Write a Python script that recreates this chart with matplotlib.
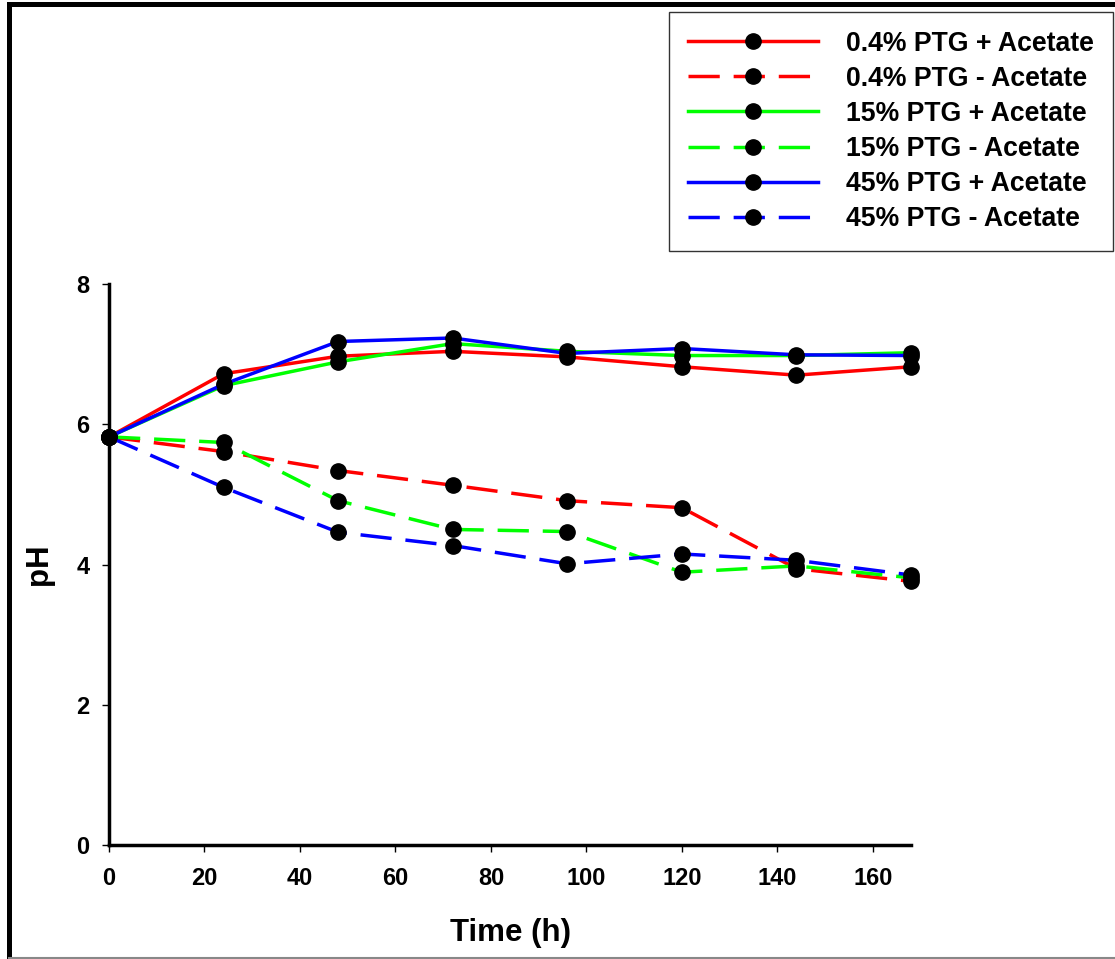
import matplotlib.pyplot as plt
from matplotlib.lines import Line2D

# données
time_h = [0, 24, 48, 72, 96, 120, 144, 168]

ph_04_plus = [5.82, 6.72, 6.97, 7.04, 6.96, 6.82, 6.70, 6.82]
ph_04_minus = [5.82, 5.61, 5.34, 5.13, 4.91, 4.81, 3.94, 3.76]
ph_15_plus = [5.82, 6.55, 6.89, 7.15, 7.04, 6.98, 6.98, 7.02]
ph_15_minus = [5.82, 5.74, 4.91, 4.50, 4.47, 3.89, 3.98, 3.81]
ph_45_plus = [5.82, 6.57, 7.18, 7.23, 7.01, 7.08, 6.99, 6.98]
ph_45_minus = [5.82, 5.10, 4.46, 4.27, 4.01, 4.15, 4.06, 3.85]

labels = ["0.4% PTG + Acetate", "0.4% PTG - Acetate",
          "15% PTG + Acetate", "15% PTG - Acetate",
          "45% PTG + Acetate", "45% PTG - Acetate"]
series = [ph_04_plus, ph_04_minus, ph_15_plus, ph_15_minus, ph_45_plus, ph_45_minus]
colors = ["#ff0000", "#ff0000", "#00ff00", "#00ff00", "#0000ff", "#0000ff"]
dashed = [False, True, False, True, False, True]

plt.rcParams['font.family'] = ['Liberation Sans', 'DejaVu Sans']
plt.rcParams['font.weight'] = 'bold'

fig = plt.figure(figsize=(11.15, 9.59), dpi=100)
ax = fig.add_axes([109/1115, 1 - 845/959, (911-109)/1115, (845-284)/959])

for ys, lab, c, d in zip(series, labels, colors, dashed):
    ls = (0, (9, 4)) if d else '-'
    ax.plot(time_h, ys, color=c, lw=2.5, ls=ls, marker='o', ms=11,
            mfc='black', mec='black', label=lab, clip_on=False, zorder=3)

ax.set_xlim(0, 168)
ax.set_ylim(0, 8)
ax.set_xticks(range(0, 161, 20))
ax.set_yticks(range(0, 9, 2))
for s in ['top', 'right']:
    ax.spines[s].set_visible(False)
for s in ['left', 'bottom']:
    ax.spines[s].set_linewidth(2.5)
ax.tick_params(direction='out', length=5, width=1, labelsize=17, pad=9)
for t in ax.get_xticklabels() + ax.get_yticklabels():
    t.set_fontweight('bold')
ax.tick_params(axis='x', pad=11)

ax.set_xlabel("Time (h)", fontsize=22.5, fontweight='bold', labelpad=20)
ax.set_ylabel("pH", fontsize=22.5, fontweight='bold', labelpad=16)

leg = fig.legend(loc='upper right', bbox_to_anchor=(1113/1115, 1 - 12/959),
                 borderaxespad=0, fontsize=19.2, handlelength=4.9,
                 handletextpad=1.05, labelspacing=0.34, fancybox=False,
                 edgecolor='#333333', framealpha=1, borderpad=0.7)
leg.get_frame().set_linewidth(1)
for t in leg.get_texts():
    t.set_fontweight('bold')

# cadre de la figure
fig.add_artist(Line2D([8.5/1115, 8.5/1115], [0, 1 - 3.5/959], color='black', lw=3.6,
                      transform=fig.transFigure, solid_capstyle='projecting'))
fig.add_artist(Line2D([8.5/1115, 1], [1 - 3.5/959, 1 - 3.5/959], color='black', lw=3.6,
                      transform=fig.transFigure, solid_capstyle='projecting'))
fig.add_artist(Line2D([8.5/1115, 1], [1.5/959, 1.5/959], color='#888888', lw=1.5,
                      transform=fig.transFigure))

fig.savefig("out.png", dpi=100)
